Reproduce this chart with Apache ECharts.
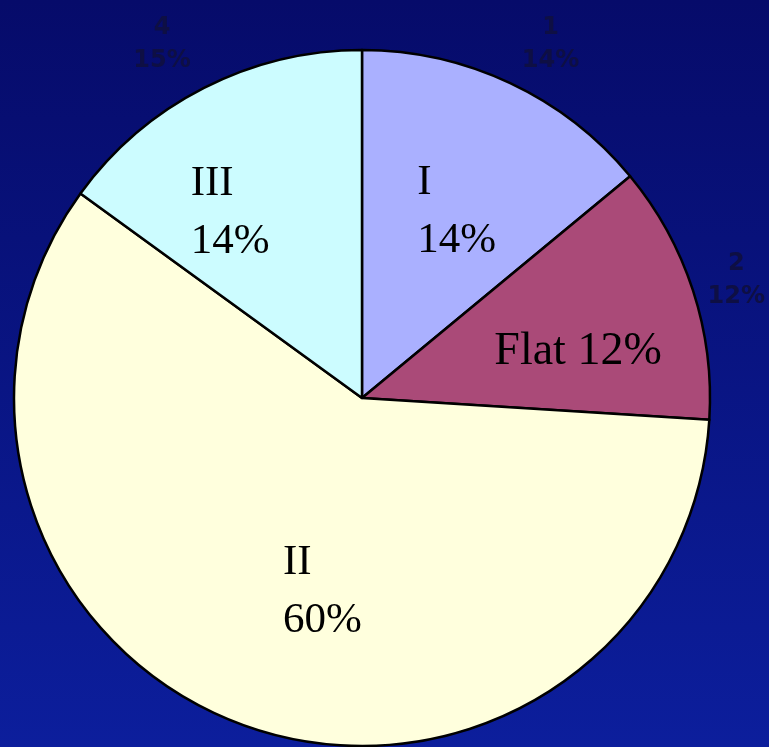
<!DOCTYPE html>
<html>
<head>
<meta charset="utf-8">
<title>Pie chart</title>
<script src="https://cdn.jsdelivr.net/npm/echarts@6/dist/echarts.min.js"></script>
<style>
  html, body { margin: 0; padding: 0; }
  #chart { width: 769px; height: 747px; }
</style>
</head>
<body>
<div id="chart"></div>
<script>
// Slice categories, clockwise from 12 o'clock
const categories = ['I', 'Flat', 'II', 'III'];
// Short names shown in the outer data labels
const outerNames = ['1', '2', '3', '4'];
// Share of each slice, in percent
const shares = [14, 12, 59, 15];
// Captions written inside the slices
const captions = ['I\n14%', 'Flat 12%', 'II\n60%', 'III\n14%'];

const sliceColors = ['#aab0ff', '#aa4a78', '#ffffdd', '#ccfcff'];
// Nudges for the captions relative to the slice centres
const captionOffsets = [[-20, -26], [-36, 9], [-19, 27], [-91, -28]];
const captionSizes = [43, 46, 43, 43];
const outerOffsets = [[17, 11], [-9, 7], [0, 0], [-17, 5]];

const CENTER = [362, 398];
const RADIUS = 348;

const chart = echarts.init(document.getElementById('chart'), null, { renderer: 'canvas' });

chart.setOption({
  animation: false,
  backgroundColor: {
    type: 'linear', x: 0, y: 0, x2: 0, y2: 1,
    colorStops: [
      { offset: 0, color: '#060b6a' },
      { offset: 1, color: '#0c1e9c' }
    ]
  },
  series: [
    {
      // main pie with captions inside each slice
      type: 'pie',
      center: CENTER,
      radius: [0, RADIUS],
      startAngle: 90,
      clockwise: true,
      silent: true,
      percentPrecision: 0,
      itemStyle: { borderColor: '#000000', borderWidth: 2.5 },
      label: {
        show: true,
        position: 'inside',
        color: '#000000',
        fontFamily: 'Liberation Serif',
        fontSize: 43,
        lineHeight: 58,
        formatter: p => captions[p.dataIndex]
      },
      // captions are left-aligned blocks
      labelLayout: () => ({ align: 'left', verticalAlign: 'middle' }),
      labelLine: { show: false },
      data: categories.map((name, i) => ({
        name,
        value: shares[i],
        itemStyle: { color: sliceColors[i] },
        label: { offset: captionOffsets[i], fontSize: captionSizes[i] }
      }))
    },
    {
      // invisible ring carrying the outer data labels
      type: 'pie',
      center: CENTER,
      radius: [390, 410],
      startAngle: 90,
      clockwise: true,
      silent: true,
      percentPrecision: 0,
      itemStyle: { color: 'rgba(0,0,0,0)', borderWidth: 0 },
      label: {
        show: true,
        position: 'inside',
        align: 'center',
        verticalAlign: 'middle',
        color: '#0e0f44',
        fontFamily: 'DejaVu Sans',
        fontWeight: 'bold',
        fontSize: 24,
        lineHeight: 33,
        formatter: '{b}\n{d}%'
      },
      labelLine: { show: false },
      data: outerNames.map((name, i) => ({
        name,
        value: shares[i],
        label: { offset: outerOffsets[i] }
      }))
    }
  ]
});
</script>
</body>
</html>
